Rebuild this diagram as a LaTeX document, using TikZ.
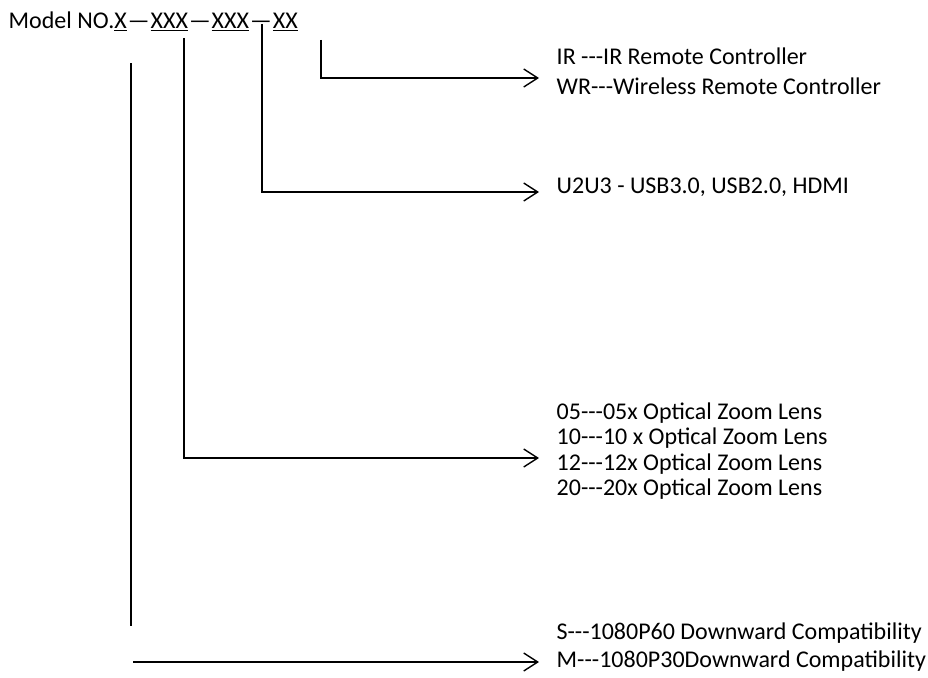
\documentclass[tikz,border=0pt]{standalone}
\usepackage{fontspec}
\setmainfont{Carlito}
\usetikzlibrary{arrows.meta}
\newcommand{\tdash}{-{}-{}-}
\newcommand{\mdsh}{\kern1pt—\kern1pt}
\begin{document}
\begin{tikzpicture}[x=1pt,y=-1pt,line width=1.4pt,
  conn/.style={-{Straight Barb[length=14pt,width=18pt,line width=1.4pt]}},
  lbl/.style={anchor=base west,inner sep=0pt,font=\fontsize{24}{28}\selectfont}]
\useasboundingbox (0,0) rectangle (928,677);
\node[lbl] (model) at (8,29) {Model NO.\underline{X}\mdsh\underline{XXX}\mdsh\underline{XXX}\mdsh\underline{XX}};
\node[lbl] (ir) at (556,64) {IR \tdash IR Remote Controller};
\node[lbl] (wr) at (556,94) {WR\tdash Wireless Remote Controller};
\node[lbl] (usb) at (556,193) {U2U3 - USB3.0, USB2.0, HDMI};
\node[lbl] (z05) at (556,419) {05\tdash 05x Optical Zoom Lens};
\node[lbl] (z10) at (556,444) {10\tdash 10 x Optical Zoom Lens};
\node[lbl] (z12) at (556,470) {12\tdash 12x Optical Zoom Lens};
\node[lbl] (z20) at (556,495) {20\tdash 20x Optical Zoom Lens};
\node[lbl] (s) at (556,639) {S\tdash 1080P60 Downward Compatibility};
\node[lbl] (m) at (556,667) {M\tdash 1080P30Downward Compatibility};
% free ends
\coordinate (a1) at (321,40);
\coordinate (a1e) at (539,78);
\coordinate (a2) at (262,24);
\coordinate (a2e) at (539,192);
\coordinate (a3) at (184,38);
\coordinate (a3e) at (539,458);
\coordinate (a4) at (131,63);
\coordinate (a4b) at (131,626);
\coordinate (a5) at (133,662);
\coordinate (a5e) at (539,662);
\draw[conn] (a1) |- (a1e);
\draw[conn] (a2) |- (a2e);
\draw[conn] (a3) |- (a3e);
\draw (a4) -- (a4b);
\draw[conn] (a5) -- (a5e);
\end{tikzpicture}
\end{document}
